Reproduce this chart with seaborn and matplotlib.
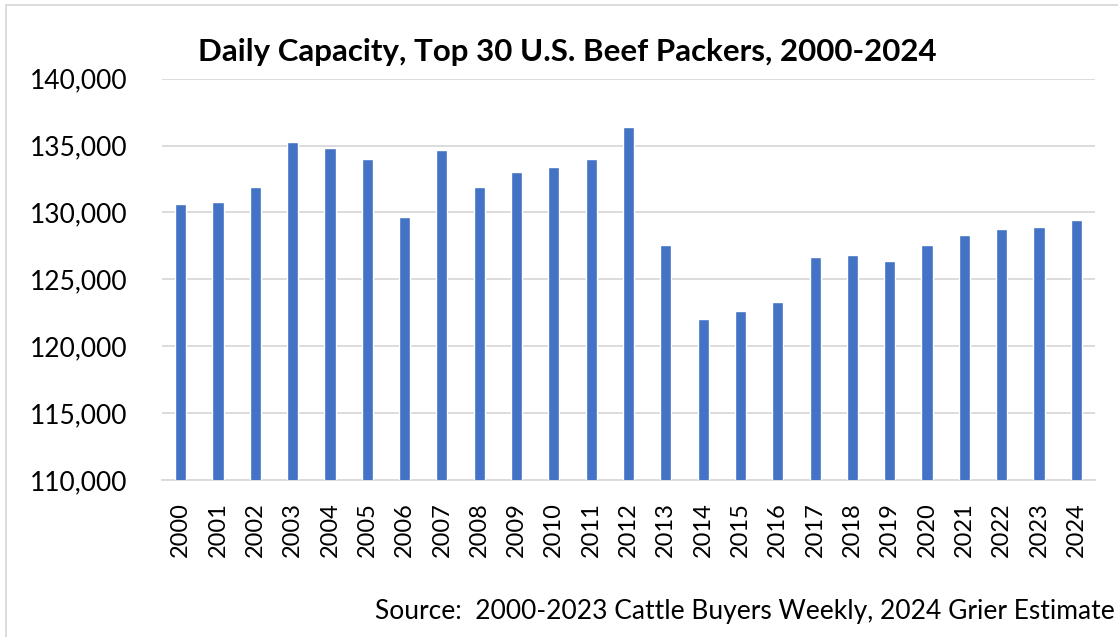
import matplotlib
matplotlib.use("Agg")
import matplotlib.pyplot as plt
import seaborn as sns
import pandas as pd
from matplotlib.ticker import FuncFormatter, MultipleLocator
from matplotlib.patches import Rectangle

years = [str(y) for y in range(2000, 2025)]
capacity = [130600, 130800, 131900, 135300, 134800, 134000, 129650, 134700,
            131900, 133000, 133400, 134000, 136400, 127550, 122000, 122600,
            123300, 126700, 126850, 126400, 127550, 128300, 128750, 128900,
            129450]

title = "Daily Capacity, Top 30 U.S. Beef Packers, 2000-2024"
source = "Source:  2000-2023 Cattle Buyers Weekly, 2024 Grier Estimate"

df = pd.DataFrame({"year": years, "capacity": capacity})

sns.set_theme(style="white")
plt.rcParams['font.family'] = ['Lato', 'DejaVu Sans']

W, H = 1118, 637
fig = plt.figure(figsize=(W / 100, H / 100), dpi=100)
ax = fig.add_axes([162 / W, 1 - 480 / H, (1095 - 162) / W, (480 - 78.7) / H])

sns.barplot(data=df, x="year", y="capacity", color="#4472C4", width=0.30,
            saturation=1, ax=ax, zorder=3)
ax.set_ylim(110000, 140000)
ax.yaxis.set_major_locator(MultipleLocator(5000))
ax.yaxis.set_major_formatter(FuncFormatter(lambda v, p: f"{int(v):,}"))
ax.grid(axis="y", color="#d9d9d9", linewidth=1.3, zorder=0)
for s in ["top", "right", "left"]:
    ax.spines[s].set_visible(False)
ax.spines["bottom"].set_color("#d9d9d9")
ax.spines["bottom"].set_linewidth(1.3)
ax.set_xlabel("")
ax.set_ylabel("")
ax.tick_params(axis="y", length=0, pad=25, labelsize=19, labelcolor="#000000")
ax.tick_params(axis="x", length=0, pad=16, labelsize=17, labelcolor="#000000",
               labelrotation=90)

fig.text(567 / W, 1 - 52 / H, title, ha="center", va="center",
         fontsize=22.5, fontweight="bold", color="#000000")
fig.text(1115 / W, 1 - 612 / H, source, ha="right", va="center",
         fontsize=19, color="#000000")

fig.patches.append(Rectangle((6 / W, -0.1), 1.2, 1 - 5 / H + 0.1,
                             transform=fig.transFigure, fill=False,
                             edgecolor="#d9d9d9", linewidth=1.3))

fig.savefig("out.png", dpi=100)
